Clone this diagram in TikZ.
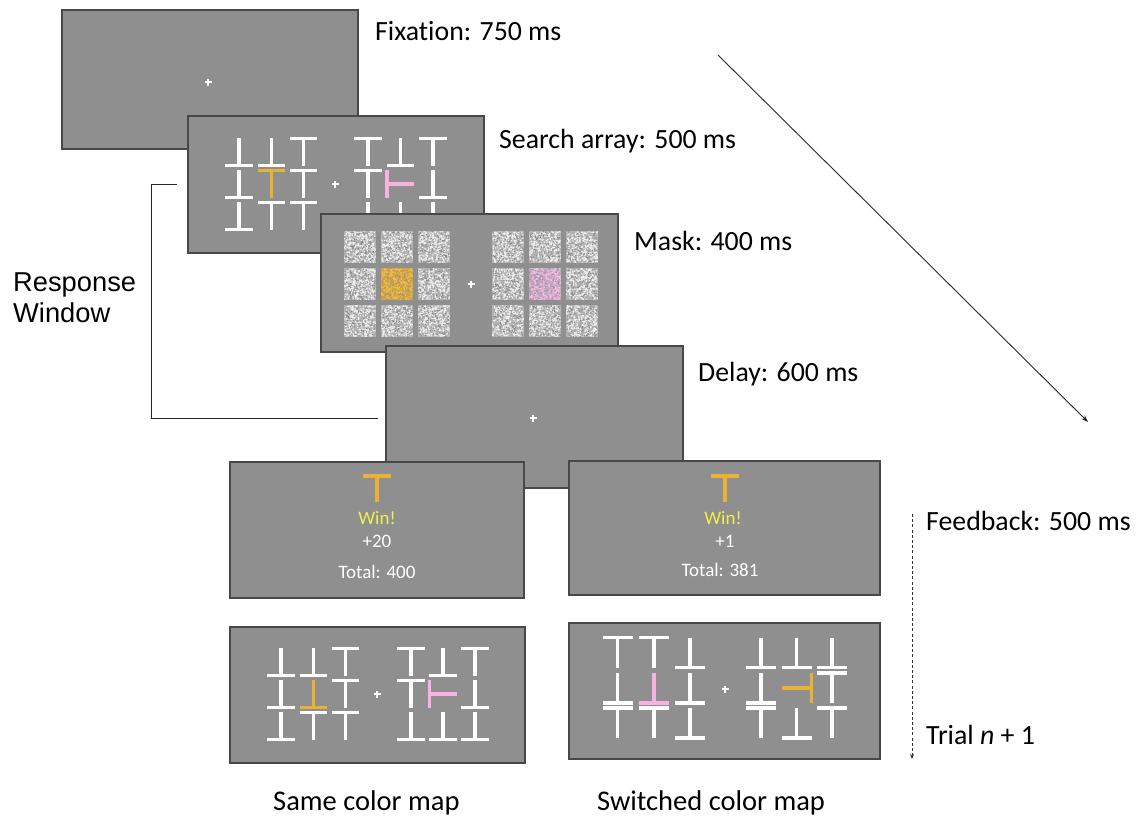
\documentclass[tikz,border=0pt]{standalone}
\usepackage{fontspec}
\setmainfont{Carlito}[RawFeature={-liga;-clig;-calt;-dlig}]
\newfontfamily\arialf{Liberation Sans}
\usetikzlibrary{arrows.meta}
\definecolor{scr}{RGB}{143,143,143}
\definecolor{scrline}{RGB}{72,72,72}
\definecolor{orT}{RGB}{233,178,51}
\definecolor{pkT}{RGB}{246,178,226}
\definecolor{winY}{RGB}{240,240,70}
\definecolor{nzBase}{RGB}{178,178,178}
\definecolor{nzLight}{RGB}{238,238,238}
\definecolor{nzDark}{RGB}{140,140,140}
\definecolor{nzOrB}{RGB}{205,160,75}
\definecolor{nzOrL}{RGB}{240,190,70}
\definecolor{nzOrD}{RGB}{170,150,110}
\definecolor{nzPkB}{RGB}{195,165,190}
\definecolor{nzPkL}{RGB}{240,190,232}
\definecolor{nzPkD}{RGB}{165,145,160}
\def\ts{13.5}
\def\tw{3.3pt}
\tikzset{
  screen/.style={draw=scrline, line width=1.2pt, fill=scr, anchor=north west,
    inner sep=0pt, outer sep=0pt},
  tee/.style={line width=\tw, line cap=butt},
  pics/tee/.style={code={\draw[tee] (-\ts,-\ts) -- (\ts,-\ts) (0,-\ts) -- (0,\ts);}},
  lab/.style={anchor=base west, inner sep=0pt, font=\fontsize{27.8}{32}\selectfont},
  blab/.style={anchor=base west, inner sep=0pt, font=\fontsize{28.5}{32}\selectfont},
  fb/.style={inner sep=0pt, font=\fontsize{19}{22}\selectfont},
  thin/.style={line width=0.9pt, draw=black!85},
}
% grid of 3x3 T's: x0, y0, dx, dy, half size, line width, list angle/colour
\newcommand\tgrid[7]{%
  \def\ts{#5}\def\tw{#6}%
  \foreach \a/\col [count=\i from 0] in {#7} {
    \pgfmathtruncatemacro\cc{mod(\i,3)}
    \pgfmathtruncatemacro\rr{div(\i,3)}
    \pic[rotate=\a, color=\col] at ({#1+\cc*#3},{#2+\rr*#4}) {tee};
  }}
% noise square: cx, cy, base, light, dark
\newcommand\noisesq[5]{%
  \fill[#3] ({#1-16},{#2-16}) rectangle ({#1+16},{#2+16});
  \fill[#4] \foreach \k in {1,...,330}{ ({#1-16+rnd*30.8},{#2-16+rnd*30.8}) rectangle ++(1.2,1.2) };
  \fill[#5] \foreach \k in {1,...,90}{ ({#1-16+rnd*30.8},{#2-16+rnd*30.8}) rectangle ++(1.2,1.2) };
}
\newcommand\fixc[2]{\draw[white, line width=1.4pt] ({#1-3.5},#2) -- ({#1+3.5},#2) (#1,{#2-3.5}) -- (#1,{#2+3.5});}

\begin{document}
\begin{tikzpicture}[x=1pt, y=-1pt]
\useasboundingbox (0,0) rectangle (1138,815);
\pgfmathsetseed{7}

% ---------- bracket (behind screens) ----------
\coordinate (rw1) at (177,184);
\coordinate (rw2) at (151,184);
\coordinate (rw3) at (151,418);
\coordinate (rw4) at (378,418);
\draw[thin] (rw1) -- (rw2) -- (rw3) -- (rw4);

% ---------- fixation ----------
\node[screen, minimum width=296pt, minimum height=139pt] (fix) at (62,10) {};
\fixc{208}{82}

% ---------- search array ----------
\node[screen, minimum width=296pt, minimum height=137pt] (search) at (188,116) {};
\fixc{335}{184}
\tgrid{239}{152}{32.3}{32}{13.6}{3.4pt}{180/white,180/white,0/white,
  180/white,0/orT,0/white, 180/white,0/white,0/white}
\tgrid{368}{152}{32.5}{32}{13.6}{3.4pt}{0/white,180/white,0/white,
  0/white,90/pkT,180/white, 180/white,180/white,180/white}

% ---------- mask ----------
\node[screen, minimum width=297pt, minimum height=138pt] (mask) at (321,214) {};
\fixc{471}{284}
\foreach \cx in {360,397,434,508,545,582}
  \foreach \cy in {247,284,321} {
    \noisesq{\cx}{\cy}{nzBase}{nzLight}{nzDark}
  }
\noisesq{397}{284}{nzOrB}{nzOrL}{nzOrD}
\noisesq{545}{284}{nzPkB}{nzPkL}{nzPkD}

% ---------- delay ----------
\node[screen, minimum width=297pt, minimum height=142pt] (delay) at (386,346) {};
\fixc{533}{418}

% ---------- feedback ----------
\node[screen, minimum width=294pt, minimum height=136pt] (fbL) at (230,462) {};
\node[screen, minimum width=311pt, minimum height=134pt] (fbR) at (569,461) {};
\draw[orT, line width=4.2pt] (363,476) -- (391,476) (377,476) -- (377,502);
\draw[orT, line width=4.2pt] (711,476) -- (739,476) (725,476) -- (725,502);
\node[fb, text=winY] (winL) at (377,518) {Win!};
\node[fb, text=white] (ptsL) at (377,541) {+20};
\node[fb, text=white] (totL) at (377,572) {Total: 400};
\node[fb, text=winY] (winR) at (723,518) {Win!};
\node[fb, text=white] (ptsR) at (725,541) {+1};
\node[fb, text=white] (totR) at (720,570) {Total: 381};

% ---------- trial n+1 ----------
\node[screen, minimum width=295pt, minimum height=136pt] (nextL) at (230,627) {};
\fixc{377}{694}
\tgrid{281}{662}{32.2}{32}{13.7}{3.4pt}{180/white,180/white,0/white,
  180/white,180/orT,0/white, 180/white,0/white,0/white}
\tgrid{411}{662}{32}{32}{13.7}{3.4pt}{0/white,180/white,0/white,
  0/white,90/pkT,180/white, 180/white,180/white,180/white}

\node[screen, minimum width=311pt, minimum height=136pt] (nextR) at (569,623) {};
\fixc{725}{689}
\tgrid{617.5}{652.5}{36.2}{35.3}{15}{3.6pt}{0/white,0/white,180/white,
  180/white,180/pkT,180/white, 0/white,0/white,180/white}
\tgrid{761}{652.5}{35.5}{35.3}{15}{3.6pt}{180/white,180/white,180/white,
  180/white,-90/orT,0/white, 0/white,180/white,0/white}

% ---------- labels ----------
\node[lab] (lfix) at (375,40) {Fixation: 750 ms};
\node[lab] (lsearch) at (499,148) {Search array: 500 ms};
\node[lab] (lmask) at (634,250) {Mask: 400 ms};
\node[lab] (ldelay) at (698,381) {Delay: 600 ms};
\node[lab] (lfb) at (926,530) {Feedback: 500 ms};
\node[lab] (ltrial) at (926,744) {Trial \textit{n} + 1};
\node[blab] (lsame) at (273,810) {Same color map};
\node[blab] (lswitch) at (597,810) {Switched color map};
\node[anchor=base west, inner sep=0pt, font=\arialf\fontsize{27.3}{31}\selectfont] (lresp) at (13,291.5) {Response};
\node[anchor=base west, inner sep=0pt, font=\arialf\fontsize{27.3}{31}\selectfont] (lwin) at (13,322.5) {Window};

% ---------- time arrows ----------
\coordinate (t1) at (718,55);
\coordinate (t2) at (1088,422);
\draw[thin, -{Stealth[length=7pt,width=5pt]}] (t1) -- (t2);
\coordinate (d1) at (912,514);
\coordinate (d2) at (912,759);
\draw[line width=0.8pt, draw=black!80, dash pattern=on 3pt off 2.2pt, -{Stealth[length=5pt,width=4pt]}] (d1) -- (d2);
\end{tikzpicture}
\end{document}
